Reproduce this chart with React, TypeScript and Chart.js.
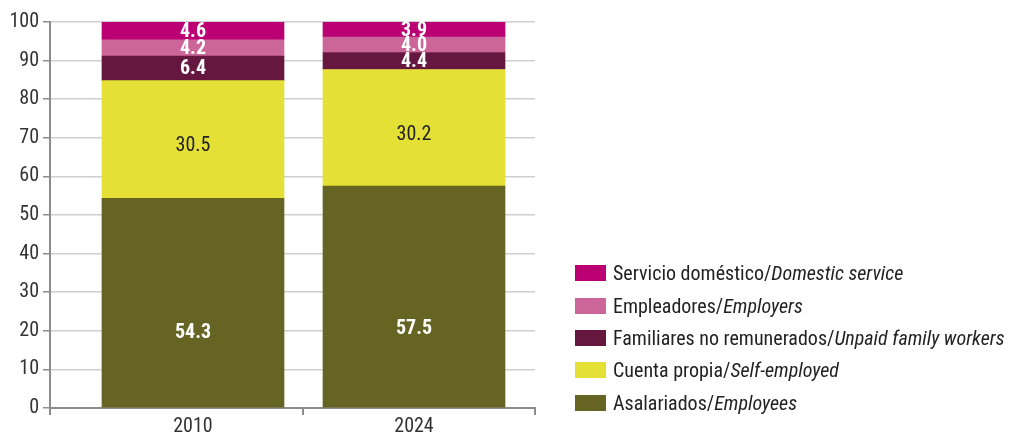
import React, { useEffect, useRef } from "react";
import { Chart, registerables } from "chart.js";

Chart.register(...registerables);

const categories = ["2010", "2024"];
const asalariados = [54.3, 57.5];
const cuentaPropia = [30.5, 30.2];
const familiares = [6.4, 4.4];
const empleadores = [4.2, 4.0];
const servicio = [4.6, 3.9];

const seriesNames = [
  ["Servicio doméstico/", "Domestic service"],
  ["Empleadores/", "Employers"],
  ["Familiares no remunerados/", "Unpaid family workers"],
  ["Cuenta propia/", "Self-employed"],
  ["Asalariados/", "Employees"],
];

const COLORS = {
  servicio: "#BA0073",
  empleadores: "#CC6699",
  familiares: "#66173F",
  cuenta: "#E5E035",
  asalariados: "#666423",
};

const FONT = "'Roboto Condensed', 'Liberation Sans Narrow', 'Roboto', sans-serif";
const AXIS_GRAY = "#8c8c8c";
const GRID_GRAY = "#cfcfcf";

const labelPlugin = {
  id: "segLabels",
  afterDatasetsDraw(chart: any) {
    const ctx = chart.ctx;
    chart.data.datasets.forEach((ds: any, di: number) => {
      const meta = chart.getDatasetMeta(di);
      meta.data.forEach((el: any, i: number) => {
        const p = el.getProps(["x", "y", "base"], true);
        const v = ds.data[i].y;
        const anchor = ds.labelAnchor ?? 0.5;
        const y = p.base + (p.y - p.base) * anchor;
        ctx.save();
        ctx.font = `${ds.labelWeight} 20px ${FONT}`;
        ctx.fillStyle = ds.labelColor;
        ctx.textAlign = "center";
        ctx.textBaseline = "middle";
        ctx.fillText(v.toFixed(1), p.x, y + 1);
        ctx.restore();
      });
    });
  },
};

function toPoints(values: number[]) {
  return values.map((v, i) => ({ x: i, y: v }));
}

export default function App() {
  const ref = useRef<HTMLCanvasElement>(null);

  useEffect(() => {
    if (!ref.current) return;
    const chart = new Chart(ref.current, {
      type: "bar",
      data: {
        datasets: [
          { label: "Asalariados", data: toPoints(asalariados), backgroundColor: COLORS.asalariados, labelColor: "#ffffff", labelWeight: "bold", labelAnchor: 0.36 } as any,
          { label: "Cuenta propia", data: toPoints(cuentaPropia), backgroundColor: COLORS.cuenta, labelColor: "#222222", labelWeight: "normal", labelAnchor: 0.45 } as any,
          { label: "Familiares", data: toPoints(familiares), backgroundColor: COLORS.familiares, labelColor: "#ffffff", labelWeight: "bold" } as any,
          { label: "Empleadores", data: toPoints(empleadores), backgroundColor: COLORS.empleadores, labelColor: "#ffffff", labelWeight: "bold" } as any,
          { label: "Servicio", data: toPoints(servicio), backgroundColor: COLORS.servicio, labelColor: "#ffffff", labelWeight: "bold" } as any,
        ],
      },
      options: {
        animation: false,
        responsive: false,
        devicePixelRatio: 1,
        layout: { padding: { top: 22, right: 482, left: 0, bottom: 0 } },
        plugins: { legend: { display: false }, tooltip: { enabled: false } },
        datasets: { bar: { barThickness: 182 } },
        scales: {
          x: {
            type: "linear",
            stacked: true,
            offset: false,
            min: -0.647,
            max: 1.5475,
            afterBuildTicks: (scale: any) => {
              scale.ticks = [-0.647, 0, 0.5, 1, 1.5475].map((value) => ({ value }));
            },
            afterFit: (scale: any) => {
              scale.height = 28;
            },
            ticks: {
              autoSkip: false,
              maxRotation: 0,
              padding: 0,
              color: "#333333",
              font: { family: FONT, size: 20 },
              callback: (v: any) => (Number.isInteger(v) ? categories[v] : ""),
            },
            grid: {
              offset: false,
              drawOnChartArea: false,
              drawTicks: true,
              tickLength: 7,
              lineWidth: 2,
              tickColor: (c: any) => (c.tick && Number.isInteger(c.tick.value) ? "rgba(0,0,0,0)" : AXIS_GRAY),
            },
            border: { color: AXIS_GRAY, width: 2 },
          },
          y: {
            stacked: true,
            min: 0,
            max: 100,
            afterFit: (scale: any) => {
              scale.width = 50;
            },
            ticks: {
              stepSize: 10,
              padding: 4,
              color: "#333333",
              font: { family: FONT, size: 20 },
            },
            grid: {
              color: GRID_GRAY,
              lineWidth: 1.5,
              tickColor: AXIS_GRAY,
              tickLength: 7,
            },
            border: { color: AXIS_GRAY, width: 2 },
          },
        },
      } as any,
      plugins: [labelPlugin],
    });
    return () => chart.destroy();
  }, []);

  const swatchColors = [COLORS.servicio, COLORS.empleadores, COLORS.familiares, COLORS.cuenta, COLORS.asalariados];

  return (
    <div style={{ position: "absolute", left: 0, top: 0, width: 1017, height: 436, background: "#fff" }}>
      <canvas ref={ref} width={1017} height={436} style={{ width: 1017, height: 436, display: "block" }} />
      <div style={{ position: "absolute", left: 575, top: 257, fontFamily: FONT, fontSize: 20, color: "#222" }}>
        {seriesNames.map((n, i) => (
          <div key={i} style={{ display: "flex", alignItems: "center", height: 32.4 }}>
            <span style={{ display: "inline-block", width: 31, height: 16, background: swatchColors[i], marginRight: 7 }} />
            <span style={{ whiteSpace: "nowrap" }}>
              {n[0]}
              <i>{n[1]}</i>
            </span>
          </div>
        ))}
      </div>
    </div>
  );
}
